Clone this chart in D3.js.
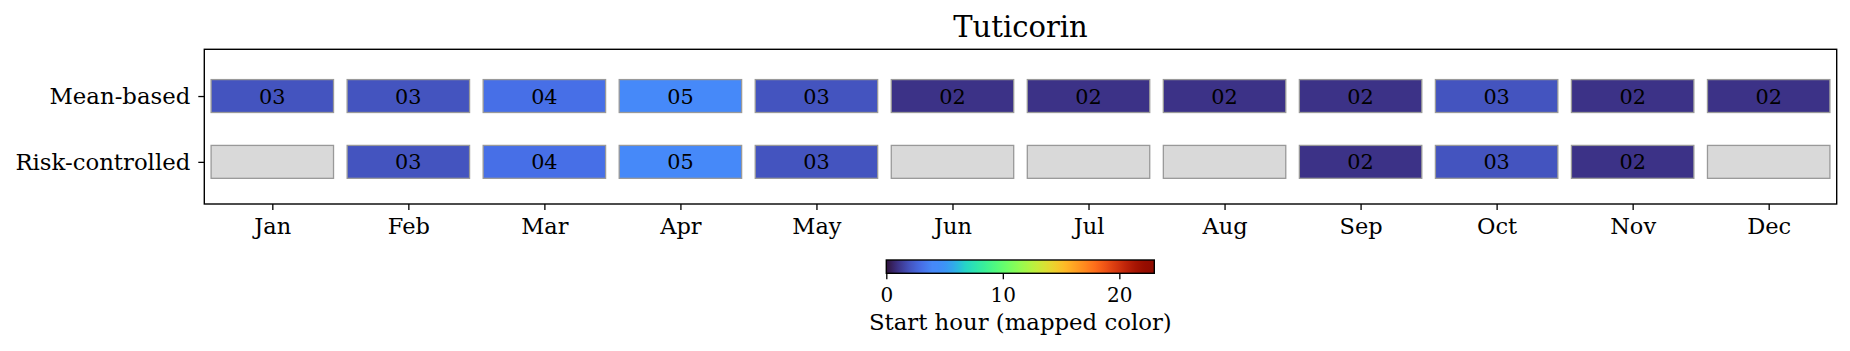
<!DOCTYPE html>
<html><head><meta charset="utf-8">
<script src="https://cdn.jsdelivr.net/npm/d3@7"></script>
<style>body{margin:0;background:#fff}svg{display:block}text{font-family:"DejaVu Serif",serif}</style>
</head><body><svg id="c" width="1850" height="351"></svg>
<script>
const title = "Tuticorin";
const months = ["Jan","Feb","Mar","Apr","May","Jun","Jul","Aug","Sep","Oct","Nov","Dec"];
const rows = ["Mean-based","Risk-controlled"];
// start hour labels shown in cells
const meanStart = [3,3,4,5,3,2,2,2,2,3,2,2];
const riskStart = [null,3,4,5,3,null,null,null,2,3,2,null];
// hour value used for the colour mapping
const meanColorHour = [2,2,3,4,2,1,1,1,1,2,1,1];
const riskColorHour = [null,2,3,4,2,null,null,null,1,2,1,null];
const cbTicks = [0,10,20];
const cbDomain = [0,23];
const cbLabel = "Start hour (mapped color)";

// matplotlib-like turbo for the dark end, blended into d3 turbo
const lowStops = [[0,[48,18,59]],[0.043,[60,50,134]],[0.086,[68,83,190]],[0.129,[71,110,230]],[0.1725,[70,137,249]]];
function turbo(t){
  t = Math.max(0,Math.min(1,t));
  if (t <= 0.1725){
    for (let i=1;i<lowStops.length;i++){
      if (t <= lowStops[i][0]){
        const [t0,c0]=lowStops[i-1],[t1,c1]=lowStops[i];
        const f=(t-t0)/(t1-t0);
        return d3.rgb(c0[0]+(c1[0]-c0[0])*f,c0[1]+(c1[1]-c0[1])*f,c0[2]+(c1[2]-c0[2])*f)+"";
      }
    }
  }
  const base = d3.rgb(70,137,249)+"";
  const w = Math.min(1,(t-0.1725)/0.12);
  return d3.interpolateRgb(base, d3.interpolateTurbo(t))(w);
}
const color = d3.scaleSequential(turbo).domain(cbDomain);

const svg = d3.select("#c");
const x = d3.scaleLinear().domain([-0.5,11.5]).range([204.3,1836.7]);
const y = d3.scaleLinear().domain([-0.71,1.64]).range([49.3,204]);

const cellW = 0.9, cellH = 0.5;
const data = [];
months.forEach((m,i)=>{
  data.push({row:0,col:i,label:meanStart[i],c:meanColorHour[i]});
  data.push({row:1,col:i,label:riskStart[i],c:riskColorHour[i]});
});

const g = svg.append("g");
g.selectAll("rect.cell").data(data).join("rect")
  .attr("class","cell")
  .attr("x",d=>x(d.col-cellW/2)).attr("width",d=>x(cellW)-x(0))
  .attr("y",d=>y(d.row-cellH/2)).attr("height",d=>y(cellH)-y(0))
  .attr("fill",d=>d.c==null?"#d9d9d9":color(d.c))
  .attr("stroke","#999").attr("stroke-width",1.3);
g.selectAll("text.cl").data(data.filter(d=>d.label!=null)).join("text")
  .attr("class","cl")
  .attr("x",d=>x(d.col)).attr("y",d=>y(d.row)).attr("dy","0.36em")
  .attr("text-anchor","middle").attr("font-size",20.8).attr("fill","#000")
  .text(d=>String(d.label).padStart(2,"0"));

// frame
svg.append("rect").attr("x",x(-0.5)).attr("y",y(-0.71)).attr("width",x(11.5)-x(-0.5)).attr("height",y(1.64)-y(-0.71))
  .attr("fill","none").attr("stroke","#000").attr("stroke-width",1.4);

// x axis
const xa = svg.append("g").attr("transform",`translate(0,${y(1.64)})`)
  .call(d3.axisBottom(x).tickValues(d3.range(12)).tickFormat(i=>months[i]).tickSize(6).tickPadding(6));
xa.select(".domain").remove();
xa.selectAll("line").attr("stroke","#000").attr("stroke-width",1.3);
xa.selectAll("text").attr("font-size",22.5).attr("font-family","DejaVu Serif").attr("fill","#000").attr("dy","0.82em");

// y axis
const ya = svg.append("g").attr("transform",`translate(${x(-0.5)},0)`)
  .call(d3.axisLeft(y).tickValues([0,1]).tickFormat(i=>rows[i]).tickSize(6).tickPadding(8));
ya.select(".domain").remove();
ya.selectAll("line").attr("stroke","#000").attr("stroke-width",1.3);
ya.selectAll("text").attr("font-size",22.8).attr("font-family","DejaVu Serif").attr("fill","#000");

// title
svg.append("text").attr("x",(x(-0.5)+x(11.5))/2).attr("y",37.3).attr("text-anchor","middle")
  .attr("font-size",29).text(title);

// colorbar
const cx = d3.scaleLinear().domain(cbDomain).range([886.3,1154.3]);
const cbTop = 260, cbH = 13.3;
const defs = svg.append("defs");
const lg = defs.append("linearGradient").attr("id","cbg").attr("x1","0%").attr("x2","100%");
d3.range(0,1.0001,1/128).forEach(t=>{
  lg.append("stop").attr("offset",(t*100)+"%").attr("stop-color",color(cbDomain[0]+t*(cbDomain[1]-cbDomain[0])));
});
svg.append("rect").attr("x",cx(cbDomain[0])).attr("y",cbTop).attr("width",cx(cbDomain[1])-cx(cbDomain[0])).attr("height",cbH)
  .attr("fill","url(#cbg)").attr("stroke","#000").attr("stroke-width",1.4);
const ca = svg.append("g").attr("transform",`translate(0,${cbTop+cbH})`)
  .call(d3.axisBottom(cx).tickValues(cbTicks).tickSize(6).tickPadding(5));
ca.select(".domain").remove();
ca.selectAll("line").attr("stroke","#000").attr("stroke-width",1.3);
ca.selectAll("text").attr("font-size",20).attr("font-family","DejaVu Serif").attr("fill","#000").attr("dy","0.88em");
svg.append("text").attr("x",(cx(cbDomain[0])+cx(cbDomain[1]))/2).attr("y",330).attr("text-anchor","middle")
  .attr("font-size",22.8).text(cbLabel);
</script></body></html>
